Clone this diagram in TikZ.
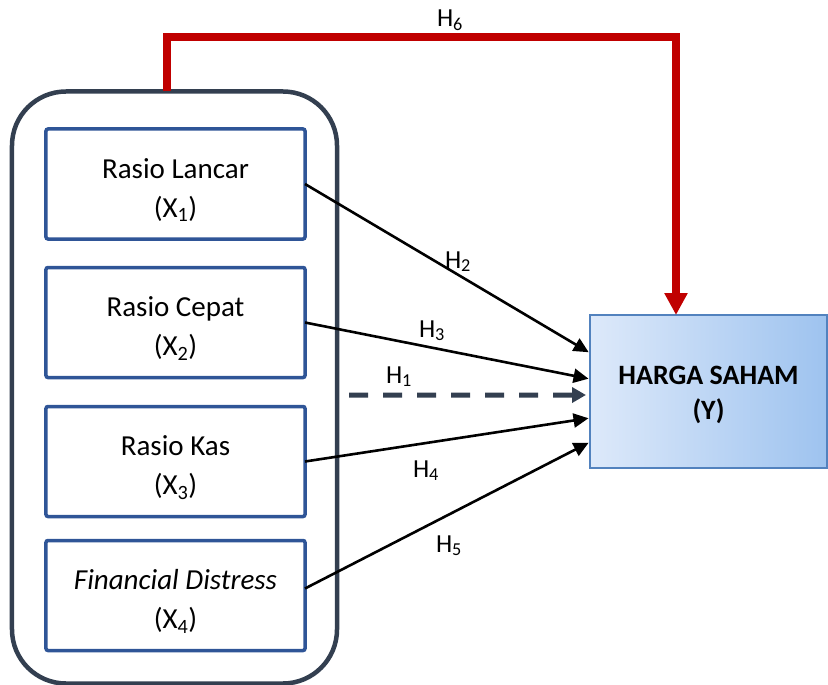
\documentclass[tikz,border=0pt]{standalone}
\usepackage{fontspec}
\setmainfont{Carlito}
\usetikzlibrary{arrows.meta}
\definecolor{outerc}{HTML}{333F50}
\definecolor{boxc}{HTML}{2F5597}
\definecolor{redc}{HTML}{C00000}
\definecolor{yborder}{HTML}{5282BE}
\definecolor{ylight}{HTML}{DDE9FA}
\definecolor{ydark}{HTML}{9EC3EF}
\begin{document}
\begin{tikzpicture}[x=1bp,y=-1bp,
  varbox/.style={draw=boxc, line width=3.5bp, rounded corners=2bp, minimum width=259bp, minimum height=110bp, inner sep=0pt, outer sep=0pt},
  txt/.style={align=center, font=\fontsize{29bp}{39bp}\selectfont, text=black, inner sep=0pt},
  ytxt/.style={align=center, font=\fontsize{28bp}{35bp}\selectfont\bfseries, text=black, inner sep=0pt},
  hyp/.style={font=\fontsize{26bp}{30bp}\selectfont, inner sep=0pt, anchor=base},
  arr/.style={draw=black, line width=2.6bp, shorten >=1.5bp, -{Triangle[length=15bp,width=14bp]}},
  dasharr/.style={draw=outerc, line width=5bp, dash pattern=on 19bp off 15bp, shorten >=4bp, -{Triangle[length=14bp,width=15bp]}},
  redarr/.style={draw=redc, line width=7.5bp, -{Triangle[length=22bp,width=22bp]}}]
\useasboundingbox (0,0) rectangle (828,685);

% outer group
\node[draw=outerc, line width=4.5bp, rounded corners=54bp, minimum width=325bp, minimum height=592bp, inner sep=0pt, outer sep=0pt] (outer) at (174.5,387.5) {};

% variable boxes
\node[varbox] (b1) at (175.5,184) {};
\node[varbox] (b2) at (175.5,322.5) {};
\node[varbox] (b3) at (175.5,461.5) {};
\node[varbox] (b4) at (175.5,595.5) {};

\node[txt] (t1) at ([yshift=-6bp]b1.center) {Rasio Lancar\\(X\textsubscript{1})};
\node[txt] (t2) at ([yshift=-6bp]b2.center) {Rasio Cepat\\(X\textsubscript{2})};
\node[txt] (t3) at ([yshift=-6bp]b3.center) {Rasio Kas\\(X\textsubscript{3})};
\node[txt] (t4) at ([yshift=-6bp]b4.center) {\textit{Financial Distress}\\(X\textsubscript{4})};

% dependent variable
\node[draw=yborder, line width=2.5bp, left color=ylight, right color=ydark, minimum width=237bp, minimum height=153bp, inner sep=0pt, outer sep=0pt] (Y) at (708.5,391.5) {};
\node[ytxt] (ty) at ([yshift=-3bp]Y.center) {HARGA SAHAM\\(Y)};

% connectors
\draw[arr] (b1.east) -- ([yshift=38.5bp]Y.west);
\draw[arr] (b2.east) -- ([yshift=12.5bp]Y.west);
\coordinate (h1s) at (349,395);
\draw[dasharr] (h1s) -- ([yshift=-3.5bp]Y.west);
\draw[arr] (b3.east) -- ([yshift=-26.5bp]Y.west);
\draw[arr] ([yshift=7bp]b4.east) -- ([yshift=-50.5bp]Y.west);
\draw[redarr] ([xshift=155bp]outer.north west) -- ++(0,-54.5) -| ([xshift=86bp]Y.north west);

% hypothesis labels
\node[hyp] (h1) at (399,383) {H\textsubscript{1}};
\node[hyp] (h2) at (458,268) {H\textsubscript{2}};
\node[hyp] (h3) at (432,337) {H\textsubscript{3}};
\node[hyp] (h4) at (426,477) {H\textsubscript{4}};
\node[hyp] (h5) at (449,552) {H\textsubscript{5}};
\node[hyp] (h6) at (450,27) {H\textsubscript{6}};
\end{tikzpicture}
\end{document}
